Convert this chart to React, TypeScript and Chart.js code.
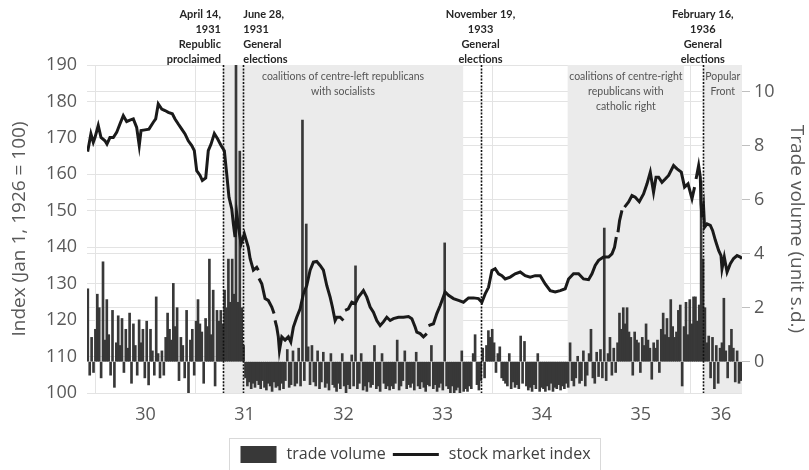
import React, { useEffect, useRef } from 'react';
import { Chart, registerables } from 'chart.js';

Chart.register(...registerables);

// Decimal year for a calendar date (month is 1-based).
const toYear = (y: number, m: number, d: number) => {
  const t = Date.UTC(y, m - 1, d);
  const s = Date.UTC(y, 0, 1);
  const e = Date.UTC(y + 1, 0, 1);
  return y + (t - s) / (e - s);
};

const X_MIN = toYear(1929, 11, 29);
const X_MAX = toYear(1936, 7, 10);

// Weekly trade volume (standardised units), first week starting 2 Dec 1929.
const VOLUME_START = Date.UTC(1929, 11, 2);
const volumeWeekly = [
  2.7, -0.5, 0.9, -0.4, 1.2, 2.5, 2.0, -0.6, 3.7, 0.8,
  2.3, 1.0, -0.5, 1.9, -0.95, 0.7, 1.7, 0.6, 1.6, -0.4,
  1.2, 0.5, 1.8, -0.8, 1.4, 0.6, -0.5, 1.55, 0.7, 1.2,
  -0.6, 1.5, -0.86, 1.2, 0.4, -0.5, 2.4, 0.3, -0.6, 0.4,
  -0.5, 0.9, 1.8, 1.2, 0.8, 2.9, 1.3, 2.0, -0.7, 0.9,
  0.6, -0.6, 1.9, -1.15, 0.8, 1.2, -0.5, 1.5, 2.3, 1.4,
  1.1, -0.8, 1.6, 1.3, 3.8, 1.0, 2.65, -0.9, 1.9, 1.5,
  1.9, 1.4, 2.65, 2.0, 3.8, 2.2, 3.8, 2.5, 12, 2.2,
  7.8, 2.0, 0.6, -0.6, -0.9, -0.75, -1.0, -0.8, -0.95, -0.7,
  -0.85, -1.0, -0.7, -0.95, -1.05, -0.8, -0.9, -1.1, -0.75, -0.95,
  -0.9, -1.05, -0.8, -1.0, -0.7, 0.45, -0.95, -0.85, 0.4, -0.9,
  -0.8, 0.5, -0.9, 8.95, -0.7, 5.1, 0.55, -0.85, 0.6, -0.75,
  -0.9, 0.4, -1.0, -0.75, 0.35, -0.95, -0.8, -1.05, 0.3, -0.85,
  -0.95, -1.1, -0.8, -1.0, 0.3, -0.9, -1.15, -0.85, -1.0, 0.25,
  -0.9, 3.55, -1.0, -0.8, 0.3, -1.05, -0.9, -1.1, -0.75, -0.95,
  -0.85, 0.6, -1.0, -0.9, -1.1, 0.3, -0.8, -1.0, -0.9, -1.05,
  -0.9, -1.0, -0.8, 0.8, -1.05, -0.9, -0.7, 0.4, -1.0, -0.85,
  -0.95, -0.8, -1.05, 0.35, -0.9, -1.0, -0.75, -0.95, -1.1, -0.85,
  -0.9, 0.6, -1.0, -0.85, -1.1, -0.95, -0.8, -1.05, 4.4, -0.9,
  -1.0, -1.15, -0.9, -1.2, -1.05, -0.95, -1.15, 0.4, -1.1, -1.0,
  -1.1, -0.9, -1.0, 0.3, 1.0, -0.85, -1.05, -0.7, 0.5, -0.6,
  0.6, 1.15, 0.9, 1.2, 0.7, -0.4, 0.3, 0.55, -0.6, -0.7,
  -0.8, -0.9, 0.3, -1.0, -0.75, -0.95, -0.85, -1.0, 0.95, -0.8,
  0.75, -0.9, -1.05, -0.95, -1.1, -0.85, -1.0, 0.3, -1.1, -0.95,
  -1.0, -1.1, -0.9, -1.05, -0.8, -1.1, -0.95, -1.0, -0.85, -1.05,
  -0.9, -1.0, -0.8, -0.95, 0.7, -0.7, -0.9, -0.6, 0.2, -0.8,
  -0.7, 0.4, -0.9, -0.5, 0.3, 1.2, -0.6, -0.8, 0.35, -0.55,
  0.45, -0.6, 4.95, -0.7, 0.3, 0.9, -0.5, 0.5, -0.4, 0.7,
  1.8, 1.2, 2.0, 1.4, 2.0, 1.1, 0.9, -0.5, 1.1, 0.8,
  0.7, -0.4, 0.9, 0.6, 1.4, 0.8, 0.5, -0.65, 0.7, 0.5,
  0.8, -0.4, 1.2, 1.8, 1.0, 1.6, 0.9, 2.3, 1.3, 0.9,
  1.1, 1.9, 2.1, -0.9, 1.3, 2.2, 1.0, 2.3, 1.4, 2.4,
  2.4, 1.5, 2.1, 6.7, 3.8, 2.0, 0.7, 0.95, -0.6, 0.9,
  -1.0, 0.6, -0.8, 0.5, 0.7, 2.35, 0.4, -0.6, 0.6, 1.2,
  0.5, -0.75, 0.4, -0.8, -0.7,
];

// Stock market index (Jan 1, 1926 = 100); null marks a break in the quotes.
const indexDates = [
  1929.916, 1929.949, 1929.973, 1929.99, 1930.023, 1930.051, 1930.091, 1930.111, 1930.141, 1930.175,
  1930.209, 1930.242, 1930.276, 1930.31, 1930.343, 1930.377, 1930.411, 1930.437, 1930.455, 1930.495,
  1930.535, 1930.579, 1930.603, 1930.629, 1930.664, 1930.697, 1930.73, 1930.771, 1930.798, 1930.831,
  1930.866, 1930.899, 1930.932, 1930.967, 1930.993, 1931.017, 1931.051, 1931.074, 1931.108, 1931.134,
  1931.162, 1931.195, 1931.229, 1931.263, 1931.296, 1931.32, 1931.343, 1931.371, 1931.387, 1931.404,
  1931.421, 1931.444, 1931.465, 1931.498, 1931.538, 1931.556, 1931.589, 1931.623, 1931.639, 1931.642,
  1931.646, 1931.674, 1931.707, 1931.74, 1931.775, 1931.798, 1931.803, 1931.808, 1931.825, 1931.841,
  1931.852, 1931.876, 1931.909, 1931.942, 1931.967, 1931.993, 1932.027, 1932.061, 1932.094, 1932.128,
  1932.162, 1932.195, 1932.229, 1932.263, 1932.296, 1932.33, 1932.364, 1932.387, 1932.414, 1932.431,
  1932.465, 1932.498, 1932.506, 1932.515, 1932.548, 1932.583, 1932.616, 1932.65, 1932.7, 1932.734,
  1932.768, 1932.801, 1932.835, 1932.869, 1932.902, 1932.936, 1932.97, 1933.003, 1933.054, 1933.104,
  1933.155, 1933.189, 1933.222, 1933.239, 1933.273, 1933.306, 1933.34, 1933.348, 1933.357, 1933.407,
  1933.441, 1933.475, 1933.525, 1933.559, 1933.609, 1933.66, 1933.71, 1933.761, 1933.811, 1933.862,
  1933.896, 1933.929, 1933.963, 1933.997, 1934.03, 1934.064, 1934.098, 1934.131, 1934.182, 1934.232,
  1934.283, 1934.333, 1934.384, 1934.434, 1934.485, 1934.535, 1934.586, 1934.636, 1934.687, 1934.737,
  1934.771, 1934.821, 1934.872, 1934.922, 1934.973, 1935.007, 1935.04, 1935.074, 1935.124, 1935.175,
  1935.209, 1935.235, 1935.253, 1935.262, 1935.27, 1935.286, 1935.31, 1935.323, 1935.336, 1935.377,
  1935.411, 1935.444, 1935.485, 1935.528, 1935.563, 1935.596, 1935.629, 1935.654, 1935.68, 1935.714,
  1935.747, 1935.781, 1935.831, 1935.866, 1935.909, 1935.942, 1935.977, 1936.017, 1936.043, 1936.05,
  1936.058, 1936.084, 1936.101, 1936.108, 1936.118, 1936.134, 1936.144, 1936.169, 1936.202, 1936.225,
  1936.253, 1936.286, 1936.31, 1936.32, 1936.343, 1936.371, 1936.404, 1936.437, 1936.472, 1936.505,
  1936.522,
];
const indexValues: (number | null)[] = [
  166.2, 171.1, 168.8, 170.1, 173.4, 170.1, 169.2, 168.3, 170.1, 170.1,
  171.5, 173.8, 176.1, 174.5, 174.9, 175.2, 172.9, 167.9, 172.0, 172.2,
  172.4, 174.3, 175.2, 179.3, 177.9, 177.5, 177.0, 176.6, 175.2, 173.8,
  172.4, 171.1, 169.2, 167.9, 166.5, 161.0, 159.7, 158.3, 159.0, 166.5,
  168.3, 171.2, 169.7, 167.9, 166.5, 160.1, 153.7, 150.5, 146.4, 142.8,
  149.3, 144.6, 140.9, 143.7, 140.0, 136.9, 133.7, 134.5, 133.7, null,
  131.4, 130.0, 125.9, 125.4, 123.6, 121.8, null, 119.9, 118.1, 115.4,
  111.7, 115.4, 114.5, 115.4, 114.0, 118.1, 120.8, 123.1, 127.2, 129.5,
  133.7, 135.9, 136.1, 135.0, 133.7, 129.5, 126.3, 123.6, 119.9, 120.8,
  120.8, 119.9, null, 122.7, 123.1, 124.9, 124.5, 126.3, 128.1, 126.3,
  123.6, 122.2, 119.9, 118.5, 119.5, 120.8, 119.9, 120.4, 120.8, 120.8,
  121.0, 120.4, 118.1, 116.7, 116.3, 115.4, 116.3, null, 118.5, 119.0,
  121.8, 124.0, 127.7, 126.8, 125.9, 125.4, 124.9, 126.1, 126.1, 125.9,
  124.9, 127.2, 129.0, 133.6, 134.1, 132.7, 132.2, 131.3, 131.8, 132.7,
  133.2, 132.2, 131.8, 132.2, 132.2, 129.9, 128.1, 127.7, 128.1, 128.6,
  131.3, 132.7, 132.7, 131.3, 131.1, 132.7, 135.0, 136.4, 137.3, 137.3,
  138.2, 140.0, 142.8, null, 144.1, 147.3, 150.1, null, 151.0, 152.4,
  154.2, 153.7, 152.5, 154.6, 157.4, 160.6, 155.1, 159.2, 159.2, 157.8,
  158.7, 159.7, 162.4, 161.5, 160.6, 156.5, 157.4, 153.3, 156.5, null,
  158.7, 162.4, 159.2, 151.9, 148.2, 151.0, 145.5, 146.4, 146.0, 144.6,
  141.9, 139.1, 137.7, 134.1, 137.3, 133.2, 135.5, 136.9, 137.7, 137.3,
  136.9,
];

// Year grid and year labels ("36" sits in the middle of the part of 1936 shown).
const yearGrid = [1930, 1931, 1932, 1933, 1934, 1935, 1936];
const yearLabelAt = [1930.5, 1931.5, 1932.5, 1933.5, 1934.5, 1935.5, 1936.31];

const events = [
  { date: toYear(1931, 4, 14), lines: ['April 14,', '1931', 'Republic', 'proclaimed'], align: 'right' },
  { date: toYear(1931, 6, 28), lines: ['June 28,', '1931', 'General', 'elections'], align: 'left' },
  { date: toYear(1933, 11, 19), lines: ['November 19,', '1933', 'General', 'elections'], align: 'center' },
  { date: toYear(1936, 2, 16), lines: ['February 16,', '1936', 'General', 'elections'], align: 'center' },
];

const periods = [
  { from: toYear(1931, 4, 14), to: toYear(1933, 9, 16), lines: ['coalitions of centre-left republicans', 'with socialists'] },
  { from: toYear(1934, 10, 6), to: toYear(1935, 12, 9), lines: ['coalitions of centre-right', 'republicans with', 'catholic right'] },
  { from: toYear(1936, 2, 19), to: X_MAX, lines: ['Popular', 'Front'] },
];

const VOLUME_COLOR = '#383838';
const INDEX_COLOR = '#1a1a1a';
const GRID = '#e3e3e3';
const AXIS_TEXT = '#595959';

const decorPlugin = {
  id: 'decor',
  beforeDatasetsDraw(chart: any) {
    const { ctx, chartArea: a, scales } = chart;
    const x = scales.x;
    ctx.save();
    ctx.fillStyle = '#ebebeb';
    periods.forEach((p) => {
      const x0 = x.getPixelForValue(p.from);
      const x1 = x.getPixelForValue(p.to);
      ctx.fillRect(x0, a.top, x1 - x0, a.bottom - a.top);
    });
    ctx.restore();
  },
  afterDatasetsDraw(chart: any) {
    const { ctx, chartArea: a, scales } = chart;
    const x = scales.x;
    ctx.save();
    // period captions
    ctx.fillStyle = '#555555';
    ctx.font = "10.5px Lato, 'Open Sans', sans-serif";
    ctx.textAlign = 'center';
    ctx.textBaseline = 'middle';
    periods.forEach((p) => {
      const cx = (x.getPixelForValue(p.from) + x.getPixelForValue(p.to)) / 2;
      p.lines.forEach((t, k) => ctx.fillText(t, cx, a.top + 12 + k * 15));
    });
    // event markers
    ctx.strokeStyle = '#111111';
    ctx.lineWidth = 1.6;
    ctx.setLineDash([2, 1.4]);
    events.forEach((e) => {
      const px = Math.round(x.getPixelForValue(e.date)) + 0.5;
      ctx.beginPath();
      ctx.moveTo(px, a.top);
      ctx.lineTo(px, a.bottom);
      ctx.stroke();
    });
    ctx.restore();
  },
  afterDraw(chart: any) {
    const { ctx, chartArea: a, scales } = chart;
    const x = scales.x;
    ctx.save();
    ctx.fillStyle = '#262626';
    ctx.font = "bold 11px Lato, 'Open Sans', sans-serif";
    ctx.textBaseline = 'middle';
    events.forEach((e) => {
      const px = x.getPixelForValue(e.date);
      let tx = px;
      if (e.align === 'right') tx = px - 2;
      if (e.align === 'left') tx = px;
      ctx.textAlign = e.align as CanvasTextAlign;
      e.lines.forEach((t, k) => ctx.fillText(t, tx, a.top - 50.5 + k * 15));
    });

    // legend
    const items = chart.data.datasets;
    ctx.font = "16px 'Open Sans', sans-serif";
    const w1 = ctx.measureText(items[0].label).width;
    const w2 = ctx.measureText(items[1].label).width;
    const pad = 11, sw = 36, lw = 46, gap = 10;
    const total = pad + sw + gap + w1 + 7 + lw + gap + w2 + gap;
    const left = Math.round((a.left + a.right) / 2 - total / 2) + 0.5;
    const top = a.bottom + 45.5;
    const cy = top + 16;
    ctx.strokeStyle = '#d9d9d9';
    ctx.lineWidth = 1;
    ctx.setLineDash([]);
    ctx.strokeRect(left, top, total, 44);
    let cx = left + pad;
    ctx.fillStyle = items[0].backgroundColor;
    ctx.fillRect(cx, cy - 8.5, sw, 17);
    cx += sw + gap;
    ctx.fillStyle = '#404040';
    ctx.textAlign = 'left';
    ctx.fillText(items[0].label, cx, cy);
    cx += w1 + 7;
    ctx.strokeStyle = items[1].borderColor;
    ctx.lineWidth = 3;
    ctx.beginPath();
    ctx.moveTo(cx, cy);
    ctx.lineTo(cx + lw, cy);
    ctx.stroke();
    cx += lw + gap;
    ctx.fillText(items[1].label, cx, cy);
    ctx.restore();
  },
};

export default function App() {
  const canvasRef = useRef<HTMLCanvasElement | null>(null);

  useEffect(() => {
    document.body.style.margin = '0';
    const canvas = canvasRef.current;
    if (!canvas) return;

    const volumeData = volumeWeekly.map((v, i) => {
      const d = new Date(VOLUME_START + i * 7 * 864e5);
      return { x: toYear(d.getUTCFullYear(), d.getUTCMonth() + 1, d.getUTCDate()), y: v };
    });
    const indexData = indexDates.map((d, i) => ({ x: d, y: indexValues[i] }));

    const tickFont = { family: "'Open Sans', sans-serif", size: 18 };
    const titleFont = { family: "'Open Sans', sans-serif", size: 19 };

    const chart = new Chart(canvas, {
      type: 'bar',
      data: {
        datasets: [
          {
            type: 'bar',
            label: 'trade volume',
            data: volumeData,
            xAxisID: 'x',
            yAxisID: 'y1',
            backgroundColor: VOLUME_COLOR,
            borderWidth: 0,
            barThickness: 2,
            order: 2,
          } as any,
          {
            type: 'line',
            label: 'stock market index',
            data: indexData,
            xAxisID: 'x',
            yAxisID: 'y',
            borderColor: INDEX_COLOR,
            backgroundColor: INDEX_COLOR,
            borderWidth: 3,
            pointRadius: 0,
            tension: 0,
            spanGaps: false,
            order: 1,
          } as any,
        ],
      },
      options: {
        responsive: false,
        animation: false,
        devicePixelRatio: 1,
        layout: { padding: { top: 65, left: 0, right: 0, bottom: 0 } },
        plugins: { legend: { display: false }, tooltip: { enabled: false } },
        scales: {
          x: {
            type: 'linear',
            axis: 'x',
            position: 'bottom',
            offset: false,
            min: X_MIN,
            max: X_MAX,
            afterBuildTicks: (s: any) => {
              s.ticks = yearGrid.map((v) => ({ value: v }));
            },
            ticks: { display: false },
            grid: { color: GRID, drawTicks: false, offset: false },
            border: { display: false },
            afterFit: (s: any) => {
              s.height = 0;
            },
          },
          xl: {
            type: 'linear',
            axis: 'x',
            position: 'bottom',
            offset: false,
            min: X_MIN,
            max: X_MAX,
            afterBuildTicks: (s: any) => {
              s.ticks = yearLabelAt.map((v) => ({ value: v }));
            },
            ticks: {
              font: tickFont,
              color: AXIS_TEXT,
              padding: 11,
              maxRotation: 0,
              autoSkip: false,
              callback: (v: any) => String(Math.floor(Number(v)) % 100),
            },
            grid: { display: false, drawTicks: false, offset: false },
            border: { display: false },
            afterFit: (s: any) => {
              s.height = 77;
            },
          },
          y: {
            position: 'left',
            min: 100,
            max: 190,
            ticks: { stepSize: 10, font: tickFont, color: AXIS_TEXT, padding: 10 },
            grid: { color: GRID, drawTicks: false },
            border: { display: false },
            title: {
              display: true,
              text: 'Index (Jan 1, 1926 = 100)',
              font: titleFont,
              color: AXIS_TEXT,
              padding: { top: 8, bottom: 0 },
            },
            afterFit: (s: any) => {
              s.width = 87;
            },
          },
          y1: {
            position: 'right',
            min: -1.16,
            max: 10.99,
            afterBuildTicks: (s: any) => {
              s.ticks = [0, 2, 4, 6, 8, 10].map((v) => ({ value: v }));
            },
            ticks: { font: tickFont, color: AXIS_TEXT, padding: 4 },
            grid: { color: GRID, drawTicks: true, tickLength: 8, tickColor: '#bfbfbf' },
            border: { display: false },
            title: {
              display: true,
              text: 'Trade volume (unit s.d.)',
              font: titleFont,
              color: AXIS_TEXT,
              padding: { top: 1, bottom: 0 },
            },
            afterFit: (s: any) => {
              s.width = 67;
            },
          },
        },
      } as any,
      plugins: [decorPlugin],
    });

    return () => chart.destroy();
  }, []);

  return (
    <div style={{ width: 809, height: 470 }}>
      <canvas ref={canvasRef} width={809} height={470} style={{ display: 'block' }} />
    </div>
  );
}
